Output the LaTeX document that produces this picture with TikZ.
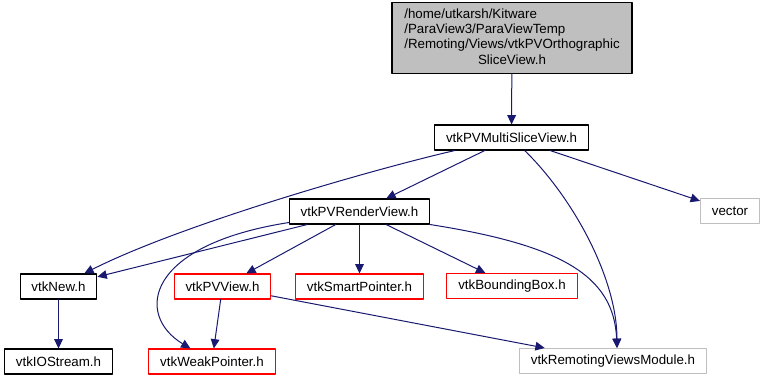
\documentclass[tikz,border=0pt]{standalone}
\usepackage{fontspec}
\setmainfont{Liberation Sans}
\usetikzlibrary{arrows.meta}
\definecolor{incblue}{HTML}{191970}
\definecolor{hdrgray}{HTML}{BFBFBF}
\begin{document}
\begin{tikzpicture}[x=0.75pt,y=-0.75pt,>={Triangle[length=7pt,width=6.5pt]},line cap=round,line join=round,font=\fontsize{10}{11.5}\selectfont,
	file/.style={draw=black,line width=0.8pt,minimum height=18.75pt,inner xsep=8.5pt,inner ysep=0pt},
	redfile/.style={file,draw=red},
	sysfile/.style={file,draw=hdrgray},
	inc/.style={->,draw=incblue,line width=0.75pt}]
	\useasboundingbox (0,0) rectangle (765,380);
	\node[file,fill=hdrgray,minimum width=180pt,minimum height=53pt,inner xsep=6pt] (top) at (512,38)
		{\raisebox{-2pt}{\begin{tabular}{@{}l@{}}/home/utkarsh/Kitware\\/ParaView3/ParaViewTemp\\/Remoting/Views/vtkPVOrthographic\\\multicolumn{1}{@{}c@{}}{SliceView.h}\end{tabular}}};
	\node[file] (ms) at (511.5,137.5) {vtkPVMultiSliceView.h};
	\node[sysfile] (vec) at (730,211) {vector};
	\node[file] (rv) at (359.5,211.5) {vtkPVRenderView.h};
	\node[file] (new) at (58.5,286.5) {vtkNew.h};
	\node[redfile] (pvv) at (222.5,286.5) {vtkPVView.h};
	\node[redfile] (sp) at (359.5,286.5) {vtkSmartPointer.h};
	\node[redfile] (bb) at (512,286) {vtkBoundingBox.h};
	\node[file] (ios) at (58.5,361.5) {vtkIOStream.h};
	\node[redfile] (wp) at (212,361.5) {vtkWeakPointer.h};
	\node[sysfile] (rvm) at (613,361) {vtkRemotingViewsModule.h};
	% include edges
	\draw[inc] (top) -- (ms);
	\draw[inc] (ms) .. controls (370,170) and (180,225) .. (new);
	\draw[inc] (ms) -- (rv);
	\draw[inc] (ms) .. controls (575,200) and (617,280) .. ([xshift=3pt]rvm.north);
	\draw[inc] (ms) -- (vec);
	\draw[inc] (rv) -- (new);
	\draw[inc] (rv) .. controls (145,245) and (135,315) .. (wp);
	\draw[inc] (rv) -- (pvv);
	\draw[inc] (rv) -- (sp);
	\draw[inc] (rv) -- (bb);
	\draw[inc] (rv.south east) .. controls (560,245) and (614,275) .. ([xshift=3pt]rvm.north);
	\draw[inc] (pvv) -- (wp);
	\draw[inc] (pvv) -- (rvm);
	\draw[inc] (new) -- (ios);
\end{tikzpicture}
\end{document}
